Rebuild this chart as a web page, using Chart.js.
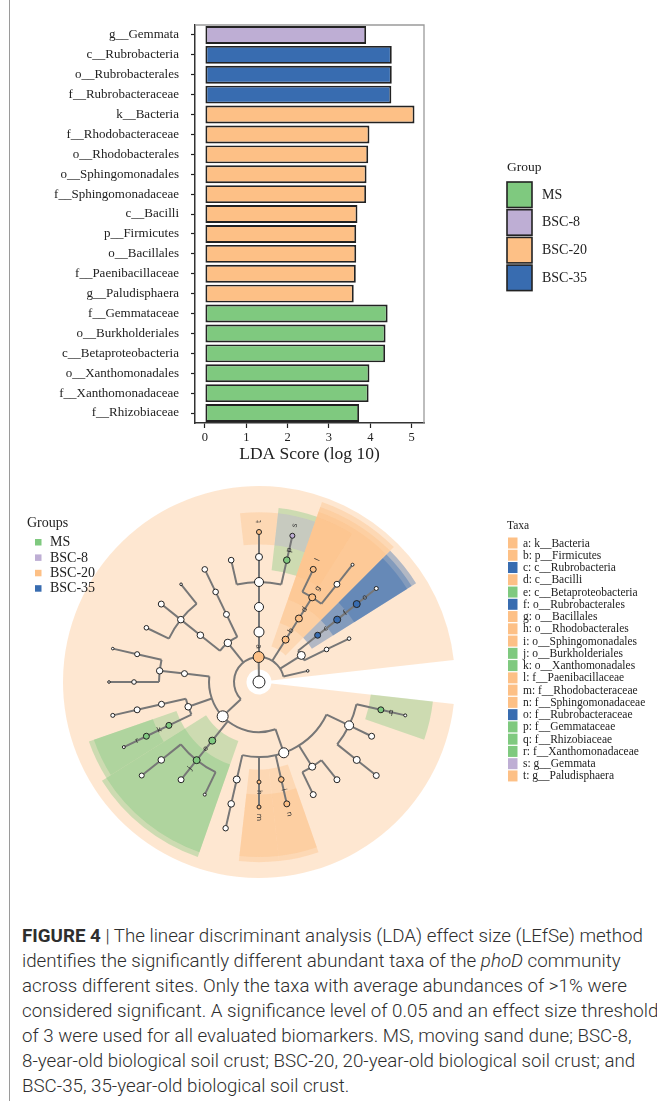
<!DOCTYPE html>
<html>
<head>
<meta charset="utf-8">
<script src="https://cdn.jsdelivr.net/npm/chart.js@4.4.1/dist/chart.umd.min.js"></script>
<style>
  html, body { margin: 0; padding: 0; background: #fff; }
  body { width: 657px; height: 1101px; position: relative; overflow: hidden; }
  #frame { position: absolute; left: 9px; top: 0; width: 1px; height: 1101px; background: #9a9a9a; }
  #ldaWrap { position: absolute; left: 0; top: 0; width: 657px; height: 470px; }
  #cladoWrap { position: absolute; left: 0; top: 470px; width: 657px; height: 440px; }
  #caption { position: absolute; left: 22px; top: 924px; font-family: Roboto, "Liberation Sans", sans-serif;
             font-weight: 300; font-size: 17.5px; line-height: 25px; color: #2e2e2e; white-space: nowrap;
             transform-origin: 0 0; }
  #caption b { font-weight: 700; }
</style>
</head>
<body>
<div id="frame"></div>
<div id="ldaWrap"><canvas id="lda" width="657" height="470"></canvas></div>
<div id="cladoWrap"><canvas id="clado" width="657" height="440"></canvas></div>
<div id="caption"></div>

<script>
// ---------- LDA scores of the discriminant taxa ----------
const taxaLabels = [
  'g__Gemmata', 'c__Rubrobacteria', 'o__Rubrobacterales', 'f__Rubrobacteraceae', 'k__Bacteria',
  'f__Rhodobacteraceae', 'o__Rhodobacterales', 'o__Sphingomonadales', 'f__Sphingomonadaceae', 'c__Bacilli',
  'p__Firmicutes', 'o__Bacillales', 'f__Paenibacillaceae', 'g__Paludisphaera', 'f__Gemmataceae',
  'o__Burkholderiales', 'c__Betaproteobacteria', 'o__Xanthomonadales', 'f__Xanthomonadaceae', 'f__Rhizobiaceae'
];
const ldaScores = [3.90, 4.52, 4.52, 4.51, 5.07, 3.98, 3.95, 3.91, 3.90, 3.69,
                   3.66, 3.66, 3.65, 3.60, 4.42, 4.37, 4.36, 3.98, 3.96, 3.73];
const taxaGroup = ['BSC-8', 'BSC-35', 'BSC-35', 'BSC-35', 'BSC-20', 'BSC-20', 'BSC-20', 'BSC-20', 'BSC-20', 'BSC-20',
                   'BSC-20', 'BSC-20', 'BSC-20', 'BSC-20', 'MS', 'MS', 'MS', 'MS', 'MS', 'MS'];
const xTickValues = [0, 1, 2, 3, 4, 5];

const groupNames = ['MS', 'BSC-8', 'BSC-20', 'BSC-35'];
const groupHex = ['#7FC97F', '#BEAED4', '#FDC086', '#386CB0'];

// ---------- cladogram: taxonomy tree in depth-first order ----------
const cladeName = [
  'root', 'k__Bacteria', 'p__Proteobacteria', 'c__Alphaproteobacteria', 'o__Rhizobiales',
  'f__Rhizobiaceae', '', '', '', '',
  '', '', '', 'o__Sphingomonadales', 'f__Sphingomonadaceae',
  'o__Rhodobacterales', 'f__Rhodobacteraceae', '', '', '',
  'c__Betaproteobacteria', 'o__Burkholderiales', '', '', '',
  '', 'c__Gammaproteobacteria', 'o__Xanthomonadales', 'f__Xanthomonadaceae', '',
  '', '', '', '', '',
  '', '', '', '', '',
  '', '', '', '', '',
  '', '', '', 'p__Planctomycetes', 'c__Planctomycetia',
  'o__Gemmatales', '', '', 'g__Paludisphaera', 'f__Gemmataceae',
  'g__Gemmata', 'p__Firmicutes', 'c__Bacilli', 'o__Bacillales', 'f__Paenibacillaceae',
  '', '', 'p__Actinobacteria', 'c__Rubrobacteria', 'o__Rubrobacterales',
  'f__Rubrobacteraceae', '', '', '', ''
];
const cladeParent = [
  -1, 0, 1, 2, 3,   4, 5, 4, 4, 8,
  3, 10, 10, 3, 13,   3, 15, 3, 17, 18,
  2, 20, 21, 21, 21,   24, 2, 26, 27, 28,
  26, 30, 31, 2, 33,   34, 35, 34, 37, 1,
  39, 40, 41, 41, 41,   39, 45, 46, 1, 48,
  49, 50, 50, 52, 50,   54, 1, 56, 57, 58,
  58, 60, 1, 62, 63,   64, 65, 62, 67, 1
];
// relative abundance weight of each clade (node size)
const cladeWeight = [
  23, 18.5, 18.5, 14.4, 10.9,   3.2, 0.09, 3.2, 5.3, 3.2,
  5.3, 3.2, 3.2, 2.6, 3.2,   0.64, 0.64, 5.3, 4.4, 2.3,
  5.3, 5.3, 0.09, 3.2, 4.4,   1.7, 4.4, 3.2, 3.2, 0.09,
  3.2, 3.2, 0.64, 3.2, 4.0,   1.2, 0.01, 1.7, 0.01, 6.5,
  4.4, 4.4, 1.2, 3.2, 0.01,   3.2, 2.6, 2.6, 14.4, 10.9,
  10.9, 2.6, 5.3, 1.7, 4.4,   1.7, 5.3, 5.3, 5.3, 3.2,
  3.2, 0.09, 7.8, 3.2, 5.3,   5.3, 0.64, 1.2, 0.36, 0.01
];

// letter key of the cladogram biomarkers
const keyLetters = ['a','b','c','d','e','f','g','h','i','j','k','l','m','n','o','p','q','r','s','t'];
const keyTaxa = ['k__Bacteria', 'p__Firmicutes', 'c__Rubrobacteria', 'c__Bacilli', 'c__Betaproteobacteria',
  'o__Rubrobacterales', 'o__Bacillales', 'o__Rhodobacterales', 'o__Sphingomonadales', 'o__Burkholderiales',
  'o__Xanthomonadales', 'f__Paenibacillaceae', 'f__Rhodobacteraceae', 'f__Sphingomonadaceae', 'f__Rubrobacteraceae',
  'f__Gemmataceae', 'f__Rhizobiaceae', 'f__Xanthomonadaceae', 'g__Gemmata', 'g__Paludisphaera'];

const captionLines = [
  '<b>FIGURE 4</b> | The linear discriminant analysis (LDA) effect size (LEfSe) method',
  'identifies the significantly different abundant taxa of the <i>phoD</i> community',
  'across different sites. Only the taxa with average abundances of &gt;1% were',
  'considered significant. A significance level of 0.05 and an effect size threshold',
  'of 3 were used for all evaluated biomarkers. MS, moving sand dune; BSC-8,',
  '8-year-old biological soil crust; BSC-20, 20-year-old biological soil crust; and',
  'BSC-35, 35-year-old biological soil crust.'
];

// ---------- helpers ----------
const colorOf = g => groupHex[groupNames.indexOf(g)];
function rgba(hex, a) {
  const n = parseInt(hex.slice(1), 16);
  return `rgba(${(n >> 16) & 255},${(n >> 8) & 255},${n & 255},${a})`;
}
const SERIF = '"Liberation Serif", "DejaVu Serif", serif';

// ---------- bar chart ----------
const spinePlugin = {
  id: 'spines',
  afterDraw(chart) {
    const { ctx, chartArea: a } = chart;
    ctx.save();
    ctx.strokeStyle = '#9a9a9a';
    ctx.lineWidth = 1.3;
    ctx.beginPath();
    ctx.moveTo(a.left, a.top); ctx.lineTo(a.right, a.top); ctx.lineTo(a.right, a.bottom);
    ctx.stroke();
    ctx.restore();
  }
};

const groupLegendPlugin = {
  id: 'groupLegend',
  afterDraw(chart) {
    const ctx = chart.ctx;
    ctx.save();
    ctx.fillStyle = '#222';
    ctx.textBaseline = 'middle';
    ctx.textAlign = 'left';
    ctx.font = `13.5px ${SERIF}`;
    ctx.fillText('Group', 507, 167);
    ctx.font = `14px ${SERIF}`;
    groupNames.forEach((g, i) => {
      const top = 182 + i * 27.7;
      ctx.fillStyle = groupHex[i];
      ctx.fillRect(507, top, 25, 25.5);
      ctx.strokeStyle = '#222';
      ctx.lineWidth = 1.6;
      ctx.strokeRect(507, top, 25, 25.5);
      ctx.fillStyle = '#222';
      ctx.fillText(g, 542, top + 13);
    });
    ctx.restore();
  }
};

new Chart(document.getElementById('lda'), {
  type: 'bar',
  data: {
    labels: taxaLabels,
    datasets: [{
      data: ldaScores,
      backgroundColor: taxaGroup.map(colorOf),
      borderColor: '#222',
      borderWidth: 1.9,
      borderSkipped: false,
      barPercentage: 0.9,
      categoryPercentage: 1.0
    }]
  },
  options: {
    indexAxis: 'y',
    responsive: false,
    animation: false,
    events: [],
    layout: { padding: { left: 0, top: 25, right: 233, bottom: 0 } },
    plugins: { legend: { display: false }, tooltip: { enabled: false } },
    scales: {
      x: {
        min: -0.24, max: 5.3,
        afterBuildTicks(s) { s.ticks = xTickValues.map(v => ({ value: v })); },
        afterFit(s) { s.height = 47; },
        grid: { drawOnChartArea: false, drawTicks: true, tickLength: 5, tickColor: '#222', tickWidth: 1.2 },
        border: { display: true, color: '#333', width: 1.5 },
        ticks: { font: { family: SERIF, size: 12.5 }, color: '#222', padding: 2, autoSkip: false },
        title: { display: true, text: 'LDA Score (log 10)', color: '#222',
                 font: { family: SERIF, size: 17.5 }, padding: { top: 0, bottom: 5 } }
      },
      y: {
        afterFit(s) { s.width = 195; },
        grid: { offset: false, drawOnChartArea: false, drawTicks: true, tickLength: 4, tickColor: '#222', tickWidth: 1.2 },
        border: { display: true, color: '#333', width: 1.5 },
        ticks: { font: { family: SERIF, size: 13 }, color: '#222', padding: 12, autoSkip: false }
      }
    }
  },
  plugins: [spinePlugin, groupLegendPlugin]
});

// ---------- cladogram layout (polar, one ring per taxonomic rank) ----------
const nNodes = cladeParent.length;
const children = Array.from({ length: nNodes }, () => []);
cladeParent.forEach((p, i) => { if (p >= 0) children[p].push(i); });
const depth = new Array(nNodes).fill(0);
for (let i = 1; i < nNodes; i++) depth[i] = depth[cladeParent[i]] + 1;

const leaves = [];
for (let i = 0; i < nNodes; i++) if (children[i].length === 0) leaves.push(i);
const slot = 360 / (leaves.length + 1);           // one empty slot leaves the opening
const angle = new Array(nNodes).fill(0);
const leafMin = new Array(nNodes).fill(0), leafMax = new Array(nNodes).fill(0);
leaves.forEach((n, k) => { angle[n] = (k + 1) * slot; leafMin[n] = leafMax[n] = angle[n]; });
for (let i = nNodes - 1; i >= 0; i--) {
  const ch = children[i];
  if (!ch.length) continue;
  angle[i] = ch.reduce((s, c) => s + angle[c], 0) / ch.length;
  leafMin[i] = Math.min(...ch.map(c => leafMin[c]));
  leafMax[i] = Math.max(...ch.map(c => leafMax[c]));
}
const rad = d => d * Math.PI / 180;
const groupOfClade = cladeName.map(n => {
  const k = taxaLabels.indexOf(n);
  return k >= 0 ? taxaGroup[k] : '';
});
const letterOfClade = cladeName.map(n => {
  const k = keyTaxa.indexOf(n);
  return k >= 0 ? keyLetters[k] : '';
});
const cladePoints = angle.map((a, i) => ({ x: depth[i] * Math.cos(rad(a)), y: -depth[i] * Math.sin(rad(a)) }));

const cladePlugin = {
  id: 'cladeTree',
  beforeDatasetsDraw(chart) {
    const { ctx, scales: { x, y } } = chart;
    const cx = x.getPixelForValue(0), cy = y.getPixelForValue(0);
    const unit = x.getPixelForValue(1) - cx;
    ctx.save();
    // shaded clades, shallow ranks first
    const marked = [];
    for (let i = 0; i < nNodes; i++) if (groupOfClade[i]) marked.push(i);
    marked.sort((p, q) => depth[p] - depth[q]);
    marked.forEach(i => {
      const a0 = rad(leafMin[i] - slot / 2), a1 = rad(leafMax[i] + slot / 2);
      const rIn = (depth[i] - 0.5) * unit;
      const rOut = (8.05 - 0.21 * depth[i]) * unit;
      ctx.beginPath();
      ctx.arc(cx, cy, rOut, a0, a1, false);
      ctx.arc(cx, cy, rIn, a1, a0, true);
      ctx.closePath();
      ctx.fillStyle = rgba(colorOf(groupOfClade[i]), 0.38);
      ctx.fill();
    });
    // branches
    ctx.strokeStyle = '#777';
    ctx.lineWidth = 2;
    ctx.lineCap = 'butt';
    for (let i = 1; i < nNodes; i++) {
      const p = cladeParent[i], t = rad(angle[i]);
      const r0 = depth[p] * unit, r1 = depth[i] * unit;
      ctx.beginPath();
      ctx.moveTo(cx + r0 * Math.cos(t), cy + r0 * Math.sin(t));
      ctx.lineTo(cx + r1 * Math.cos(t), cy + r1 * Math.sin(t));
      ctx.stroke();
    }
    for (let i = 0; i < nNodes; i++) {
      const ch = children[i];
      if (ch.length < 2) continue;
      const amin = Math.min(...ch.map(c => angle[c])), amax = Math.max(...ch.map(c => angle[c]));
      ctx.beginPath();
      ctx.arc(cx, cy, depth[i] * unit, rad(amin), rad(amax), false);
      ctx.stroke();
    }
    ctx.restore();
  },
  afterDatasetsDraw(chart) {
    const { ctx, scales: { x, y } } = chart;
    const cx = x.getPixelForValue(0), cy = y.getPixelForValue(0);
    const unit = x.getPixelForValue(1) - cx;
    ctx.save();
    ctx.fillStyle = '#333';
    ctx.font = '7.5px "DejaVu Sans", sans-serif';
    ctx.textAlign = 'center';
    ctx.textBaseline = 'middle';
    for (let i = 0; i < nNodes; i++) {
      if (!letterOfClade[i]) continue;
      const t = rad(angle[i]);
      const r = (depth[i] + 0.42) * unit;
      ctx.save();
      ctx.translate(cx + r * Math.cos(t), cy + r * Math.sin(t));
      ctx.rotate(Math.cos(t) >= -1e-9 ? t : t + Math.PI);
      ctx.fillText(letterOfClade[i], 0, 0);
      ctx.restore();
    }
    ctx.restore();
  },
  afterDraw(chart) {
    const ctx = chart.ctx;
    ctx.save();
    ctx.textBaseline = 'middle';
    ctx.textAlign = 'left';
    ctx.fillStyle = '#222';
    // group key
    ctx.font = `14px ${SERIF}`;
    ctx.fillText('Groups', 27, 53);
    groupNames.forEach((g, i) => {
      const cyy = 72 + i * 15.4;
      ctx.fillStyle = groupHex[i];
      ctx.fillRect(35, cyy - 3, 6.5, 6.5);
      ctx.fillStyle = '#222';
      ctx.fillText(g, 50, cyy + 0.5);
    });
    // letter key
    ctx.font = `11.5px ${SERIF}`;
    ctx.fillText('Taxa', 507, 56);
    keyLetters.forEach((l, i) => {
      const cyy = 73 + i * 12.26;
      const k = taxaLabels.indexOf(keyTaxa[i]);
      ctx.fillStyle = colorOf(taxaGroup[k]);
      ctx.fillRect(508, cyy - 5.5, 9.5, 11);
      ctx.fillStyle = '#222';
      ctx.fillText(`${l}: ${keyTaxa[i]}`, 523, cyy + 0.5);
    });
    ctx.restore();
  }
};

new Chart(document.getElementById('clado'), {
  type: 'scatter',
  data: {
    datasets: [{
      data: cladePoints,
      pointRadius: cladeWeight.map(w => 1.2 + Math.sqrt(w)),
      pointBackgroundColor: groupOfClade.map(g => g ? colorOf(g) : '#ffffff'),
      pointBorderColor: '#222',
      pointBorderWidth: 1,
      clip: false
    }]
  },
  options: {
    responsive: false,
    animation: false,
    events: [],
    layout: { padding: { left: 59, right: 198, top: 12, bottom: 28 } },
    plugins: { legend: { display: false }, tooltip: { enabled: false } },
    scales: {
      x: { type: 'linear', min: -8, max: 8, display: false },
      y: { type: 'linear', min: -8, max: 8, display: false }
    }
  },
  plugins: [cladePlugin]
});

// ---------- caption ----------
(function () {
  const box = document.getElementById('caption');
  captionLines.forEach(html => {
    const d = document.createElement('div');
    const s = document.createElement('span');
    s.innerHTML = html;
    d.appendChild(s);
    box.appendChild(d);
  });
  const w = box.firstChild.firstChild.getBoundingClientRect().width;
  if (w > 0) box.style.transform = 'scaleX(' + (621 / w).toFixed(4) + ')';
})();
</script>
</body>
</html>
